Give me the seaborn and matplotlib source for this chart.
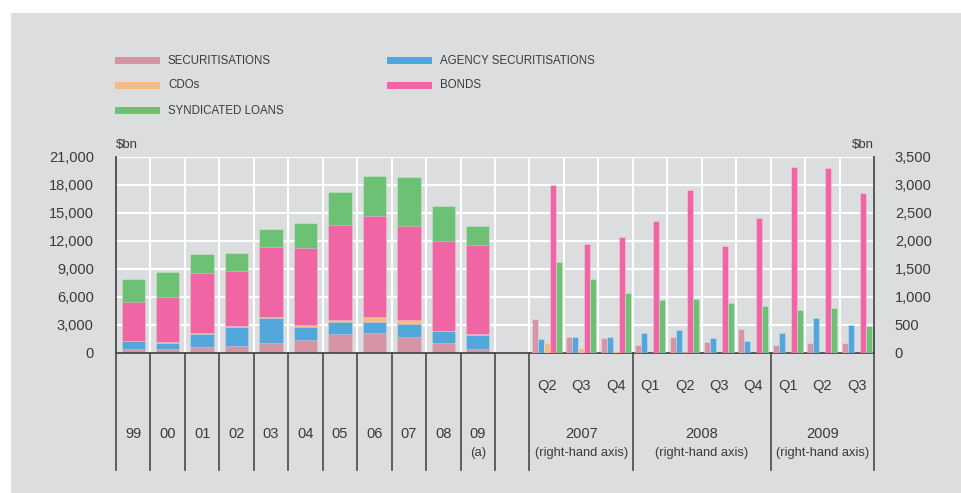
import numpy as np
import pandas as pd
import matplotlib
matplotlib.use('Agg')
import matplotlib.pyplot as plt
from matplotlib.patches import Rectangle
import seaborn as sns

# Series, stacking order bottom -> top
SERIES = ['SECURITISATIONS', 'AGENCY SECURITISATIONS', 'CDOs', 'BONDS', 'SYNDICATED LOANS']
COLORS = {
    'SECURITISATIONS': '#d595a5',
    'AGENCY SECURITISATIONS': '#52a6dc',
    'CDOs': '#f7bb82',
    'BONDS': '#f066a5',
    'SYNDICATED LOANS': '#6cc174',
}

# Annual issuance, $bn (left-hand axis)
YEARS = ['99', '00', '01', '02', '03', '04', '05', '06', '07', '08', '09']
YEAR_NOTES = ['', '', '', '', '', '', '', '', '', '', '(a)']
securitisations_y = [430, 460, 640, 790, 1040, 1430, 2070, 2140, 1750, 1040, 460]
agency_y = [890, 580, 1360, 1960, 2670, 1360, 1290, 1220, 1360, 1280, 1500]
cdos_y = [0, 100, 140, 110, 180, 210, 210, 530, 460, 70, 40]
bonds_y = [4110, 4860, 6430, 5930, 7430, 8250, 10110, 10750, 10000, 9640, 9530]
loans_y = [2500, 2680, 2040, 1920, 1960, 2710, 3530, 4320, 5250, 3720, 2080]

# Quarterly issuance, $bn (right-hand axis)
QUARTERS = ['Q2', 'Q3', 'Q4', 'Q1', 'Q2', 'Q3', 'Q4', 'Q1', 'Q2', 'Q3']
QUARTER_YEARS = ['2007', '2008', '2009']
QUARTERS_PER_YEAR = [3, 4, 3]
securitisations_q = [610, 290, 260, 150, 290, 200, 420, 150, 170, 185]
agency_q = [255, 285, 280, 365, 415, 275, 210, 365, 630, 505]
cdos_q = [175, 85, 40, 5, 10, 0, 0, 0, 0, 0]
bonds_q = [3000, 1945, 2070, 2365, 2915, 1915, 2415, 3315, 3310, 2865]
loans_q = [1625, 1325, 1075, 940, 960, 900, 840, 775, 800, 490]

LEFT_TICKS = [0, 3000, 6000, 9000, 12000, 15000, 18000, 21000]
RIGHT_TICKS = [0, 500, 1000, 1500, 2000, 2500, 3000, 3500]

BG = '#dcdddf'
TXT = '#3a3a3a'
LINE = '#4a4a4a'

plt.rcParams['font.family'] = ['Liberation Sans', 'DejaVu Sans']

W, H = 961, 493
fig = plt.figure(figsize=(W / 100, H / 100), dpi=100, facecolor='white')


def fx(px):
    return px / W


def fy(py):
    return 1 - py / H


# grey panel behind everything
fig.patches.append(Rectangle((fx(11), 0), 1, fy(13), transform=fig.transFigure,
                             facecolor=BG, edgecolor='none', zorder=-5))

ax = fig.add_axes([fx(116), fy(353), fx(874) - fx(116), fy(157) - fy(353)])
ax.set_facecolor(BG)
ax2 = ax.twinx()

n_year = len(YEARS)
year_pos = np.arange(n_year) + 0.5
q_start = n_year + 1
q_pos = np.arange(len(QUARTERS)) + q_start + 0.5

# ---- stacked annual bars (draw cumulative totals from the top layer down)
annual = pd.DataFrame({
    'pos': year_pos,
    'SECURITISATIONS': securitisations_y,
    'AGENCY SECURITISATIONS': agency_y,
    'CDOs': cdos_y,
    'BONDS': bonds_y,
    'SYNDICATED LOANS': loans_y,
})
cum = annual[SERIES].cumsum(axis=1)
for s in SERIES[::-1]:
    layer = pd.DataFrame({'pos': annual['pos'], 'top': cum[s]})
    sns.barplot(data=layer, x='pos', y='top', native_scale=True, orient='x',
                color=COLORS[s], saturation=1, width=0.68, errorbar=None,
                edgecolor=(1, 1, 1, 0.3), linewidth=0.6, ax=ax)

# ---- grouped quarterly bars on the right-hand axis
quarterly = pd.DataFrame({
    'pos': q_pos,
    'SECURITISATIONS': securitisations_q,
    'AGENCY SECURITISATIONS': agency_q,
    'CDOs': cdos_q,
    'BONDS': bonds_q,
    'SYNDICATED LOANS': loans_q,
}).melt(id_vars='pos', var_name='series', value_name='value')
sns.barplot(data=quarterly, x='pos', y='value', hue='series', hue_order=SERIES,
            palette=COLORS, saturation=1, native_scale=True, orient='x',
            width=0.87, dodge=True, errorbar=None, legend=False,
            edgecolor=(1, 1, 1, 0.3), linewidth=0.6, ax=ax2)

n_cells = q_start + len(QUARTERS)
for a in (ax, ax2):
    a.set_xlim(0, n_cells)
    a.set_xlabel('')
    a.set_ylabel('')

ax.set_ylim(0, 21000)
ax2.set_ylim(0, 3500)

# white grid on cell boundaries and tick levels
ax.set_xticks(np.arange(n_cells + 1))
ax.set_xticklabels([])
ax.set_yticks(LEFT_TICKS)
ax.set_yticklabels([f'{v:,}' for v in LEFT_TICKS])
ax2.set_yticks(RIGHT_TICKS)
ax2.set_yticklabels([f'{v:,}' for v in RIGHT_TICKS])
ax.grid(True, color='white', linewidth=1.5)
ax.set_axisbelow(True)
ax2.grid(False)

ax.tick_params(axis='x', length=0)
ax.tick_params(axis='y', length=0, pad=16, labelsize=10.5, labelcolor=TXT)
ax2.tick_params(axis='y', length=0, pad=15, labelsize=10.5, labelcolor=TXT)

for side in ('left', 'right', 'bottom'):
    ax.spines[side].set_color(LINE)
    ax.spines[side].set_linewidth(1.3)
ax.spines['top'].set_visible(False)
for sp in ax2.spines.values():
    sp.set_visible(False)

# category separators below the axis
xtr = ax.get_xaxis_transform()
sep_bottom = -(470 - 353) / 196
q_bounds = list(q_start + np.cumsum([0] + QUARTERS_PER_YEAR))
for b in list(range(n_year + 1)) + q_bounds:
    ax.plot([b, b], [0, sep_bottom], transform=xtr, clip_on=False,
            color=LINE, linewidth=1.2, zorder=5)


def ay(py):
    return -(py - 353) / 196


for p, lab, note in zip(year_pos, YEARS, YEAR_NOTES):
    ax.text(p, ay(434), lab, transform=xtr, ha='center', va='center', fontsize=10.5, color=TXT)
    if note:
        ax.text(p, ay(453), note, transform=xtr, ha='center', va='center', fontsize=9.5, color=TXT)
for p, lab in zip(q_pos, QUARTERS):
    ax.text(p, ay(386), lab, transform=xtr, ha='center', va='center', fontsize=10.5, color=TXT)
for i, yr in enumerate(QUARTER_YEARS):
    mid = (q_bounds[i] + q_bounds[i + 1]) / 2
    ax.text(mid, ay(434), yr, transform=xtr, ha='center', va='center', fontsize=10.5, color=TXT)
    ax.text(mid, ay(453), '(right-hand axis)', transform=xtr, ha='center', va='center',
            fontsize=9.3, color=TXT)

fig.text(fx(116), fy(145), '$bn', ha='left', va='center', fontsize=9.5, color=TXT)
fig.text(fx(874), fy(145), '$bn', ha='right', va='center', fontsize=9.5, color=TXT)

# legend, two columns
legend_cols = [
    (115, ['SECURITISATIONS', 'CDOs', 'SYNDICATED LOANS']),
    (387, ['AGENCY SECURITISATIONS', 'BONDS']),
]
for x0, names in legend_cols:
    for r, name in enumerate(names):
        yc = 60.5 + r * 25
        fig.patches.append(Rectangle((fx(x0), fy(yc + 3.5)), fx(45), 7 / H,
                                     transform=fig.transFigure, facecolor=COLORS[name],
                                     edgecolor='none', zorder=2))
        fig.text(fx(x0 + 53), fy(yc), name, ha='left', va='center', fontsize=8.3,
                 color=TXT)

fig.savefig('out.png', dpi=100, facecolor=fig.get_facecolor())
